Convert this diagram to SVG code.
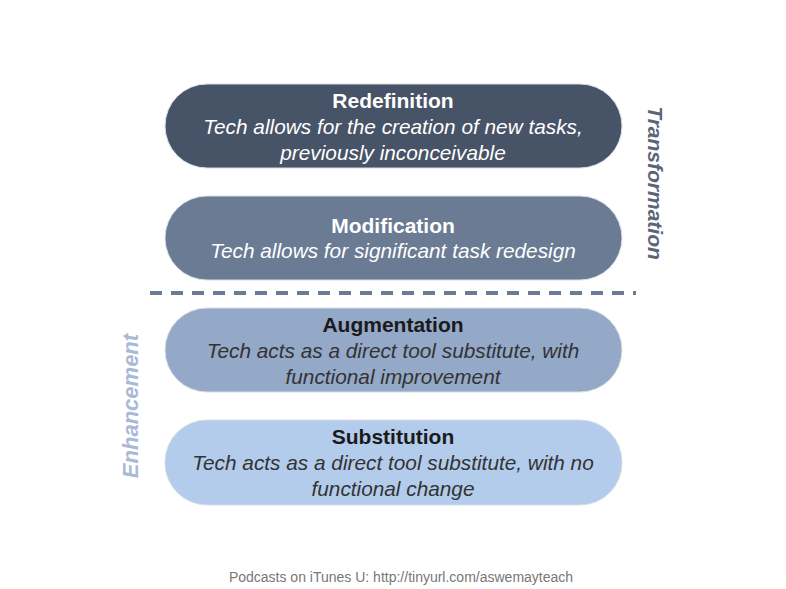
<svg xmlns="http://www.w3.org/2000/svg" width="786" height="589" viewBox="0 0 786 589">
<style>
.t{font-family:"Liberation Sans",Arial,sans-serif;font-weight:bold;font-size:21px;text-anchor:middle}
.s{font-family:"Liberation Sans",Arial,sans-serif;font-style:italic;font-size:20.8px;text-anchor:middle}
.w{fill:#ffffff}
.d{fill:#1a1a1a}
.ds{fill:#333333}
.side{font-family:"Liberation Sans",Arial,sans-serif;font-weight:bold;font-style:italic;text-anchor:middle}
.pill{stroke:#d8dde5;stroke-width:1}
</style>
<rect width="786" height="589" fill="#ffffff"/>
<g id="redefinition">
<rect class="pill" x="165" y="84" width="457" height="84" rx="42" fill="#475366"/>
<text class="t w" x="393" y="108">Redefinition</text>
<text class="s w" x="393" y="134">Tech allows for the creation of new tasks,</text>
<text class="s w" x="393" y="160">previously inconceivable</text>
</g>
<g id="modification">
<rect class="pill" x="165" y="196" width="457" height="84" rx="42" fill="#6a7b93"/>
<text class="t w" x="393" y="233">Modification</text>
<text class="s w" x="393" y="258">Tech allows for significant task redesign</text>
</g>
<g id="connectors">
<line x1="150" y1="293" x2="636" y2="293" stroke="#6a7b93" stroke-width="4" stroke-dasharray="12,9"/>
</g>
<g id="augmentation">
<rect class="pill" x="165" y="308" width="457" height="84" rx="42" fill="#94a8c8"/>
<text class="t d" x="393" y="332">Augmentation</text>
<text class="s ds" x="393" y="358">Tech acts as a direct tool substitute, with</text>
<text class="s ds" x="393" y="384">functional improvement</text>
</g>
<g id="substitution">
<rect class="pill" x="165" y="420" width="457" height="85" rx="42" fill="#b3ccec"/>
<text class="t d" x="393" y="444">Substitution</text>
<text class="s ds" x="393" y="470">Tech acts as a direct tool substitute, with no</text>
<text class="s ds" x="393" y="496">functional change</text>
</g>
<g id="transformation">
<text class="side" font-size="21" transform="translate(648,183) rotate(90)" fill="#5a6578">Transformation</text>
</g>
<g id="enhancement">
<text class="side" font-size="22" transform="translate(138,406) rotate(-90)" fill="#a9b9d6">Enhancement</text>
</g>
<g id="footer">
<text x="401" y="582" font-family="'Liberation Sans',Arial,sans-serif" font-size="14" fill="#777777" text-anchor="middle">Podcasts on iTunes U: http://tinyurl.com/aswemayteach</text>
</g>
</svg>
